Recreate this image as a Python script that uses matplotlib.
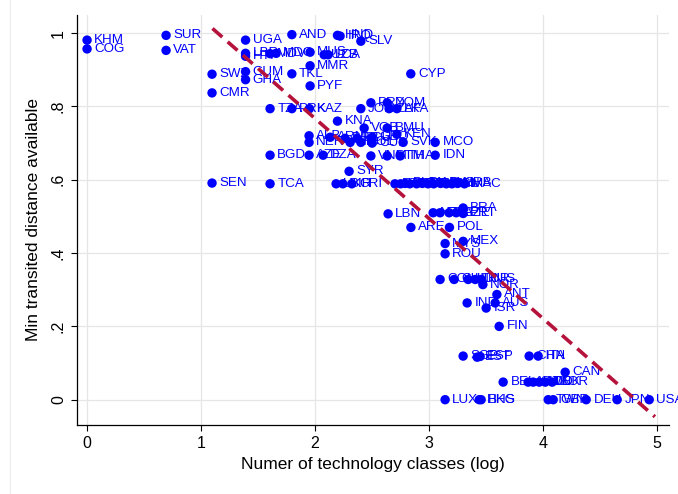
"""Scatter of min transited distance vs number of technology classes (log)."""

import matplotlib

matplotlib.use("Agg")

import matplotlib.pyplot as plt
from matplotlib.lines import Line2D

plt.rcParams["font.family"] = ["Liberation Sans", "DejaVu Sans"]

# country codes with (log tech classes, min transited distance)
codes = [
    "KHM", "COG", "SUR", "VAT", "SWZ", "CMR", "SEN",
    "UGA", "LBR", "HTI", "GUM", "GHA", "MDV", "MDG",
    "AND", "HND", "IRQ", "SLV", "MUS", "UZB", "LCA", "MMR", "TKL", "PYF", "CYP",
    "TZA", "PRK", "KAZ", "JOR", "PRY", "DOM", "ZAF", "LKA", "KNA", "VGB", "BMU",
    "ALB", "ARM", "BRB", "ECU", "GEO", "KEN",
    "NER", "NIC", "BOL", "CUB", "SVK", "MCO",
    "BGD", "AZE", "DZA", "VNM", "GTM", "THA", "IDN", "SYR",
    "TCA", "UKR", "BIH", "CRI",
    "ETH", "KGZ", "BLR", "EGY", "PER", "MAR", "TUN", "PAK", "JAM", "PAN", "ISL", "SRB", "MAC",
    "LBN", "NZL", "FRA", "IRL", "CZE", "BRA", "PRT",
    "ARE", "POL", "MYS", "MEX", "ROU",
    "COL", "CHL", "HUN", "TUR", "RUS", "NOR", "ANT", "IND", "AUS", "ISR", "FIN",
    "SGP", "EST", "ESP", "CHN", "ITA", "CAN",
    "BEL", "AUT", "SWE", "NLD", "DNK", "KOR",
    "LUX", "HKG", "BHS", "TWN", "GBR", "DEU", "JPN", "USA",
]
log_classes = [
    0.00, 0.00, 0.693, 0.693, 1.096, 1.096, 1.096,
    1.390, 1.390, 1.390, 1.390, 1.390, 1.605, 1.658,
    1.796, 2.196, 2.219, 2.401, 1.956, 2.079, 2.114, 1.956, 1.796, 1.956, 2.839,
    1.605, 1.796, 1.950, 2.401, 2.489, 2.632, 2.649, 2.717, 2.196, 2.430, 2.632,
    1.947, 2.132, 2.263, 2.368, 2.500, 2.717,
    1.947, 2.307, 2.401, 2.500, 2.772, 3.053,
    1.605, 1.947, 2.070, 2.489, 2.632, 2.746, 3.053, 2.298,
    1.605, 2.184, 2.243, 2.322,
    2.70, 2.75, 2.79, 2.83, 2.89, 2.94, 2.99, 3.04, 3.10, 3.15, 3.20, 3.25, 3.31,
    2.640, 3.035, 3.096, 3.175, 3.237, 3.298, 3.298,
    2.840, 3.178, 3.140, 3.298, 3.140,
    3.096, 3.219, 3.342, 3.404, 3.456, 3.471, 3.594, 3.333, 3.579, 3.500, 3.614,
    3.298, 3.421, 3.447, 3.877, 3.956, 4.193,
    3.649, 3.868, 3.912, 3.965, 4.018, 4.079,
    3.140, 3.439, 3.456, 4.044, 4.088, 4.377, 4.649, 4.930,
]
min_distance = [
    0.981, 0.957, 0.994, 0.953, 0.888, 0.837, 0.591,
    0.981, 0.945, 0.937, 0.895, 0.873, 0.944, 0.945,
    0.996, 0.994, 0.992, 0.978, 0.948, 0.941, 0.941, 0.911, 0.889, 0.856, 0.889,
    0.794, 0.794, 0.794, 0.794, 0.810, 0.810, 0.794, 0.794, 0.760, 0.741, 0.741,
    0.720, 0.716, 0.713, 0.713, 0.716, 0.724,
    0.702, 0.702, 0.702, 0.700, 0.702, 0.702,
    0.667, 0.667, 0.667, 0.665, 0.665, 0.665, 0.667, 0.623,
    0.589, 0.589, 0.589, 0.589,
    0.589, 0.589, 0.590, 0.589, 0.589, 0.590, 0.589, 0.589, 0.590, 0.589, 0.589, 0.590, 0.589,
    0.507, 0.510, 0.510, 0.510, 0.510, 0.523, 0.508,
    0.470, 0.470, 0.426, 0.432, 0.398,
    0.328, 0.328, 0.328, 0.328, 0.328, 0.314, 0.287, 0.264, 0.264, 0.250, 0.200,
    0.119, 0.116, 0.118, 0.119, 0.119, 0.075,
    0.048, 0.048, 0.048, 0.048, 0.048, 0.048,
    0.000, 0.000, 0.000, 0.000, 0.000, 0.000, 0.000, 0.000,
]

# linear fit shown as the dashed line
FIT_INTERCEPT = 1.313
FIT_SLOPE = -0.273
FIT_X = [1.10, 4.98]

X_TICKS = [0, 1, 2, 3, 4, 5]
Y_TICKS = [0, 0.2, 0.4, 0.6, 0.8, 1.0]
Y_TICKLABELS = ["0", ".2", ".4", ".6", ".8", "1"]

DOT = "#0000ff"
FIT = "#b5123c"

fig = plt.figure(figsize=(6.78, 4.94), dpi=100)
ax = fig.add_axes([0.1136, 0.1397, 0.8734, 0.8303])

ax.scatter(log_classes, min_distance, s=46, color=DOT, edgecolors="none", zorder=3)
for code, x, y in zip(codes, log_classes, min_distance):
    ax.annotate(code, (x, y), xytext=(5.2, 0), textcoords="offset points",
                va="center", ha="left", fontsize=9.6, color=DOT, zorder=4)

fit_y = [FIT_INTERCEPT + FIT_SLOPE * x for x in FIT_X]
ax.plot(FIT_X, fit_y, color=FIT, linewidth=2.6, dashes=(3.6, 2.0), zorder=5)

ax.set_xlim(-0.088, 5.105)
ax.set_ylim(-0.069, 1.05)
ax.set_xticks(X_TICKS)
ax.set_yticks(Y_TICKS)
ax.set_yticklabels(Y_TICKLABELS, rotation=90, va="center")
ax.grid(True, color="#e6e6e6", linewidth=0.9, zorder=0)
ax.set_axisbelow(True)
ax.tick_params(direction="out", length=4, width=0.8, labelsize=11.5, color="black", pad=4)

for side in ("top", "right"):
    ax.spines[side].set_visible(False)
for side in ("left", "bottom"):
    ax.spines[side].set_linewidth(0.9)

ax.set_xlabel("Numer of technology classes (log)", fontsize=12.5, labelpad=4)
ax.set_ylabel("Min transited distance available", fontsize=12.5, labelpad=7)

# faint outline of the outer graph region on the left
fig.add_artist(Line2D([10 / 678, 10 / 678], [0, 1], transform=fig.transFigure,
                      color="#ececec", linewidth=0.8))

fig.savefig("out.png", dpi=100)
plt.close(fig)
